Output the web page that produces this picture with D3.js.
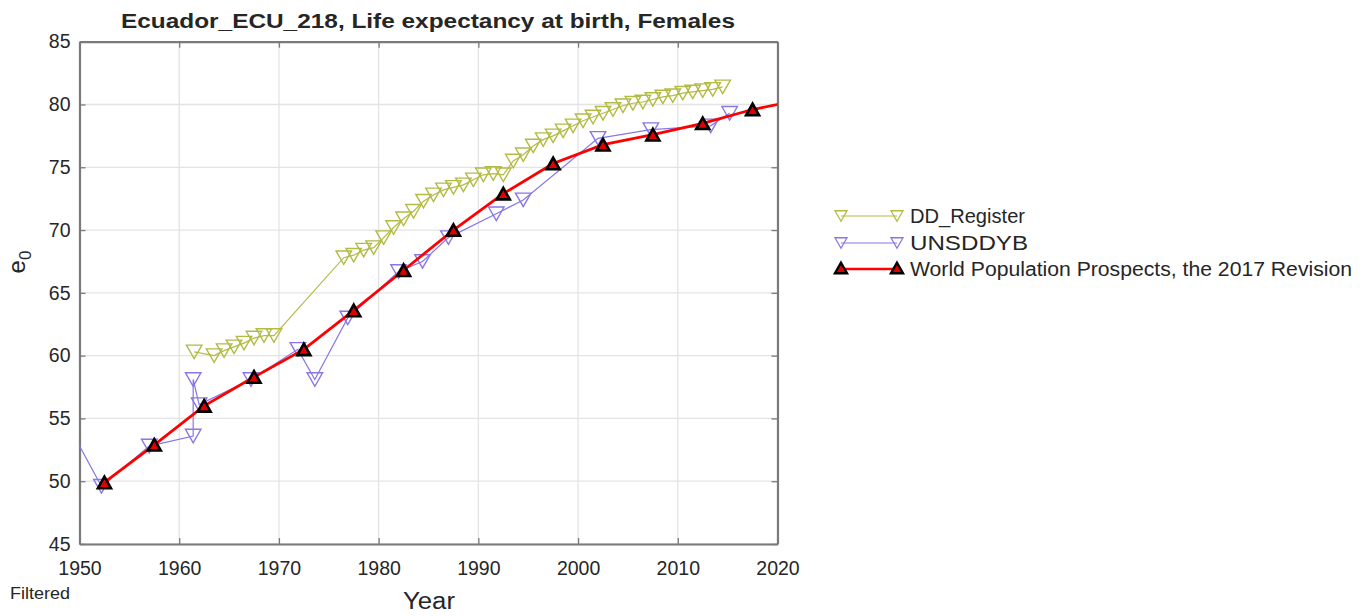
<!DOCTYPE html>
<html><head><meta charset="utf-8">
<script src="https://cdn.jsdelivr.net/npm/d3@7/dist/d3.min.js"></script>
<style>body{margin:0;background:#fff}svg{display:block}text{font-family:"Liberation Sans",Arial,sans-serif;fill:#262626}</style>
</head><body><svg id="c" width="1364" height="616"></svg>
<script>
const xTicks=[1950,1960,1970,1980,1990,2000,2010,2020];
const yTicks=[45,50,55,60,65,70,75,80,85];

const ddYears=[1961.5,1963.5,1964.5,1965.5,1966.5,1967.5,1968.5,1969.5,
1976.5,1977.5,1978.5,1979.5,1980.5,1981.5,1982.5,1983.5,1984.5,1985.5,1986.5,1987.5,1988.5,1989.5,
1990.5,1991.5,1992.5,1993.5,1994.5,1995.5,1996.5,1997.5,1998.5,1999.5,2000.5,2001.5,2002.5,2003.5,
2004.5,2005.5,2006.5,2007.5,2008.5,2009.5,2010.5,2011.5,2012.5,2013.5,2014.5];
const ddValues=[60.3,60.0,60.4,60.7,61.0,61.4,61.6,61.6,
67.8,68.0,68.4,68.6,69.4,70.2,70.9,71.5,72.3,72.8,73.2,73.4,73.6,74.0,
74.4,74.5,74.4,75.5,76.0,76.7,77.2,77.5,77.9,78.3,78.7,79.0,79.3,79.6,
79.9,80.1,80.2,80.4,80.6,80.7,80.9,81.0,81.1,81.2,81.4];

const unYears=[1948.5,1952.2,1957.0,1961.4,1961.4,1962.0,1967.2,1971.9,1973.6,1976.9,1982.0,1984.4,1987.0,1991.8,1994.5,2002.0,2007.3,2013.3,2015.2];
const unValues=[55.0,49.6,52.8,53.6,58.1,56.1,58.1,60.5,58.1,63.0,66.7,67.5,69.4,71.3,72.4,77.3,78.0,78.3,79.3];

const wppYears=[1952.5,1957.5,1962.5,1967.5,1972.5,1977.5,1982.5,1987.5,1992.5,1997.5,2002.5,2007.5,2012.5,2017.5,2022.5];
const wppValues=[49.9,52.9,56.0,58.3,60.5,63.6,66.8,70.0,72.9,75.3,76.8,77.6,78.5,79.6,80.4];

const seriesNames=["DD_Register","UNSDDYB","World Population Prospects, the 2017 Revision"];
const greenC="#b3bb45", purpleC="#8a76e6";

const svg=d3.select("#c");
const L=79.5,R=777.5,T=41.7,B=544;
const x=d3.scaleLinear().domain([1950,2020]).range([L,R]);
const y=d3.scaleLinear().domain([45,85]).range([B,T]);

svg.append("defs").append("clipPath").attr("id","clip").append("rect")
  .attr("x",L).attr("y",T).attr("width",R-L).attr("height",B-T);

// grid
const g=svg.append("g");
g.selectAll("line.gx").data(xTicks).join("line")
  .attr("x1",d=>x(d)).attr("x2",d=>x(d)).attr("y1",T).attr("y2",B)
  .attr("stroke","#e3e3e3").attr("stroke-width",1.3);
g.selectAll("line.gy").data(yTicks).join("line")
  .attr("y1",d=>y(d)).attr("y2",d=>y(d)).attr("x1",L).attr("x2",R)
  .attr("stroke","#e3e3e3").attr("stroke-width",1.3);

// axes
const ax=svg.append("g").attr("transform",`translate(0,${B})`)
  .call(d3.axisBottom(x).tickValues(xTicks).tickFormat(d3.format("d")).tickSizeInner(-6).tickSizeOuter(0).tickPadding(17));
const axT=svg.append("g").attr("transform",`translate(0,${T})`)
  .call(d3.axisTop(x).tickValues(xTicks).tickFormat("").tickSizeInner(-6).tickSizeOuter(0));
const ay=svg.append("g").attr("transform",`translate(${L},0)`)
  .call(d3.axisLeft(y).tickValues(yTicks).tickSizeInner(-6).tickSizeOuter(0).tickPadding(9));
const ayR=svg.append("g").attr("transform",`translate(${R},0)`)
  .call(d3.axisRight(y).tickValues(yTicks).tickFormat("").tickSizeInner(-6).tickSizeOuter(0));
[ax,axT,ay,ayR].forEach(a=>{
  a.select(".domain").attr("stroke","#7a7a7a").attr("stroke-width",2.2);
  a.selectAll(".tick line").attr("stroke","#7a7a7a").attr("stroke-width",1.3);
  a.selectAll(".tick text").attr("font-size",19.5).attr("fill","#262626")
   .style("font-family",'"Liberation Sans",Arial,sans-serif');
});

const plot=svg.append("g").attr("clip-path","url(#clip)");
const line=d3.line().x(d=>x(d[0])).y(d=>y(d[1]));
const dd=ddYears.map((d,i)=>[d,ddValues[i]]);
const un=unYears.map((d,i)=>[d,unValues[i]]);
const wpp=wppYears.map((d,i)=>[d,wppValues[i]]);

function downTri(w,h){return `M${-w/2},${-h/2}L${w/2},${-h/2}L0,${h/2}Z`;}
function upTri(w,h){return `M0,${-h/2}L${w/2},${h/2}L${-w/2},${h/2}Z`;}

// DD_Register
plot.append("path").datum(dd).attr("d",line).attr("fill","none").attr("stroke",greenC).attr("stroke-width",1.2);
plot.selectAll("path.ddm").data(dd).join("path").attr("class","ddm")
  .attr("transform",d=>`translate(${x(d[0])},${y(d[1])})`).attr("d",downTri(15.5,13.5))
  .attr("fill","none").attr("stroke",greenC).attr("stroke-width",1.4);

// UNSDDYB
plot.append("path").datum(un).attr("d",line).attr("fill","none").attr("stroke",purpleC).attr("stroke-width",1.2);
plot.selectAll("path.unm").data(un).join("path").attr("class","unm")
  .attr("transform",d=>`translate(${x(d[0])},${y(d[1])})`).attr("d",downTri(15.5,13.5))
  .attr("fill","none").attr("stroke",purpleC).attr("stroke-width",1.4);

// WPP
plot.append("path").datum(wpp).attr("d",line).attr("fill","none").attr("stroke","#ff0000").attr("stroke-width",2.8);
plot.selectAll("path.wm").data(wpp).join("path").attr("class","wm")
  .attr("transform",d=>`translate(${x(d[0])},${y(d[1])})`).attr("d",upTri(13,11.5))
  .attr("fill","#e00000").attr("stroke","#000").attr("stroke-width",2.6).attr("stroke-linejoin","miter");

// title & labels
svg.append("text").attr("x",121).attr("y",28)
  .attr("font-size",20).attr("font-weight","bold").attr("fill","#111")
  .attr("textLength",614).attr("lengthAdjust","spacingAndGlyphs")
  .text("Ecuador_ECU_218, Life expectancy at birth, Females");
svg.append("text").attr("x",403).attr("y",609).attr("font-size",23)
  .attr("textLength",52).attr("lengthAdjust","spacingAndGlyphs").text("Year");
const yl=svg.append("text").attr("transform","translate(25,262) rotate(-90)").attr("text-anchor","middle").attr("font-size",24);
yl.append("tspan").text("e");
yl.append("tspan").attr("font-size",17).attr("dy",6).text("0");
svg.append("text").attr("x",10).attr("y",599).attr("font-size",16)
  .attr("textLength",60).attr("lengthAdjust","spacingAndGlyphs").text("Filtered");

// legend
const legRows=[{c:greenC,kind:"d",y:216,w:115},{c:purpleC,kind:"u",y:243,w:118},{c:"#ff0000",kind:"w",y:269,w:442}];
const lg=svg.append("g");
legRows.forEach((r,i)=>{
  lg.append("line").attr("x1",841).attr("x2",897).attr("y1",r.y).attr("y2",r.y)
    .attr("stroke",r.c).attr("stroke-width",r.kind==="w"?2.4:1.2);
  [841,897].forEach(px=>{
    if(r.kind==="w"){
      lg.append("path").attr("transform",`translate(${px},${r.y-1})`).attr("d",upTri(12,10.5))
        .attr("fill","#e00000").attr("stroke","#000").attr("stroke-width",2.4);
    } else {
      lg.append("path").attr("transform",`translate(${px},${r.y})`).attr("d",downTri(12,10.5))
        .attr("fill","none").attr("stroke",r.c).attr("stroke-width",1.3);
    }
  });
  lg.append("text").attr("x",910).attr("y",r.y+7).attr("font-size",20)
    .attr("textLength",r.w).attr("lengthAdjust","spacingAndGlyphs").text(seriesNames[i]);
});
</script></body></html>
